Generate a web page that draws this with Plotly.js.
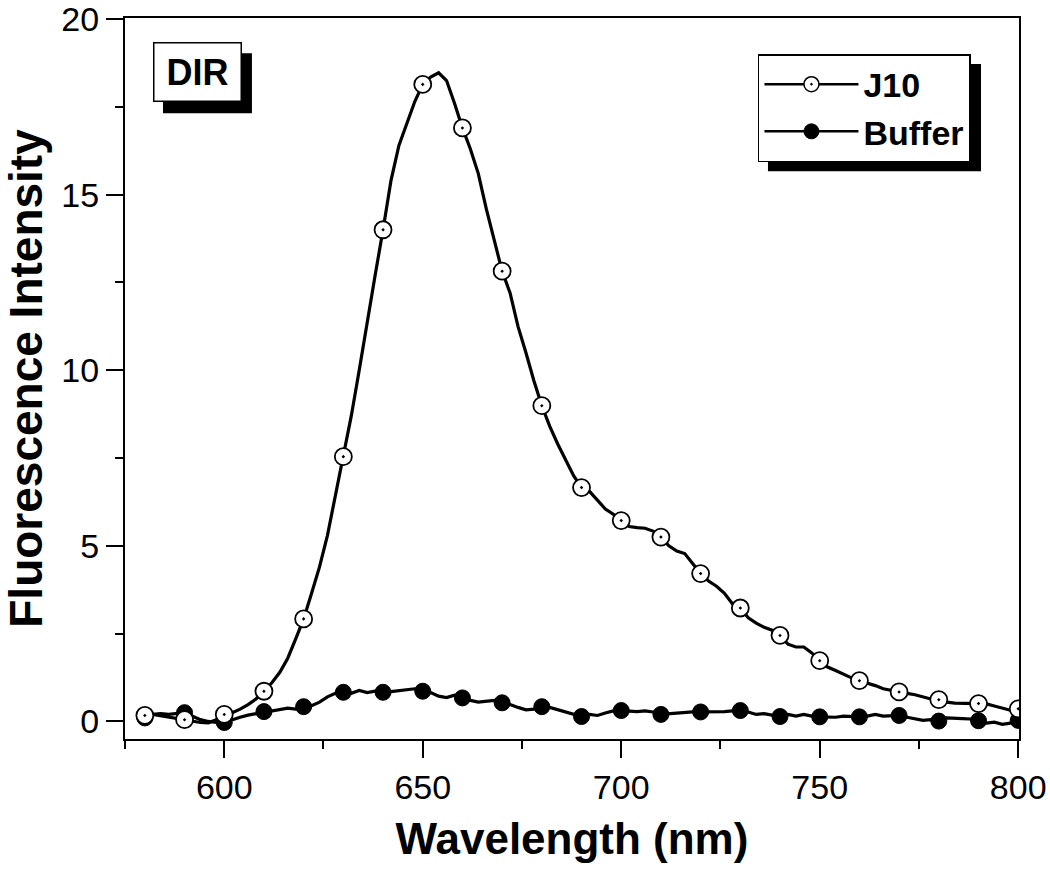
<!DOCTYPE html>
<html><head><meta charset="utf-8">
<script src="https://cdn.plot.ly/plotly-3.0.1.min.js"></script>
<style>html,body{margin:0;padding:0;background:#fff}#chart{width:1050px;height:872px}</style>
</head><body><div id="chart"></div>
<script>
const wavelength = [
 578,580,582,584,586,588,590,592,594,596,598,600,602,604,606,608,610,612,614,616,618,620,
 622,624,626,628,630,632,634,636,638,640,642,644,646,648,650,652,654,656,658,660,662,664,
 666,668,670,672,674,676,678,680,682,684,686,688,690,692,694,696,698,700,702,704,706,708,
 710,712,714,716,718,720,722,724,726,728,730,732,734,736,738,740,742,744,746,748,750,752,
 754,756,758,760,762,764,766,768,770,772,774,776,778,780,782,784,786,788,790,792,794,796,
 798,800];
const j10Line = [
 0.17,0.17,0.2,0.16,0.12,0.08,0.05,0.02,-0.03,-0.04,0.05,0.2,0.25,0.35,0.48,0.64,0.86,1.1,1.4,1.8,2.35,2.92,
 3.65,4.4,5.3,6.45,7.54,8.7,10.0,11.4,12.7,14.0,15.4,16.4,17.05,17.65,18.14,18.35,18.47,18.25,17.6,16.9,16.3,15.6,
 14.6,13.7,12.82,12.2,11.25,10.5,9.7,8.99,8.4,7.9,7.45,7.0,6.66,6.55,6.3,6.05,5.9,5.72,5.55,5.52,5.5,5.42,
 5.25,5.0,4.85,4.78,4.5,4.21,4.0,3.85,3.65,3.35,3.23,2.95,2.8,2.68,2.6,2.45,2.2,2.12,2.12,1.95,1.73,1.55,
 1.45,1.34,1.24,1.16,1.1,1.02,0.93,0.88,0.84,0.8,0.76,0.7,0.64,0.62,0.55,0.52,0.52,0.5,0.51,0.5,0.44,0.38,
 0.32,0.33];
const bufferLine = [
 0.1,0.1,0.2,0.22,0.2,0.22,0.25,0.15,0.05,0.0,-0.03,-0.03,0.05,0.12,0.18,0.22,0.28,0.3,0.34,0.38,0.35,0.42,
 0.45,0.55,0.7,0.8,0.83,0.8,0.88,0.82,0.86,0.83,0.85,0.88,0.9,0.93,0.86,0.82,0.72,0.68,0.75,0.67,0.6,0.55,
 0.58,0.6,0.53,0.48,0.4,0.33,0.35,0.42,0.4,0.33,0.28,0.2,0.14,0.2,0.17,0.24,0.3,0.31,0.3,0.28,0.3,0.27,
 0.2,0.22,0.23,0.25,0.27,0.27,0.27,0.27,0.28,0.3,0.31,0.27,0.2,0.22,0.17,0.14,0.2,0.15,0.2,0.15,0.13,0.12,
 0.12,0.15,0.14,0.13,0.15,0.2,0.15,0.17,0.17,0.12,0.08,0.03,0.05,0.01,0.1,0.1,0.08,0.07,0.02,-0.05,-0.02,-0.08,
 -0.05,0.03];
const markerWavelength = [580,590,600,610,620,630,640,650,660,670,680,690,700,710,720,730,740,750,760,770,780,790,800];
const j10Markers = [0.17,0.05,0.2,0.86,2.92,7.54,14.0,18.14,16.9,12.82,8.99,6.66,5.72,5.25,4.21,3.23,2.45,1.73,1.16,0.84,0.62,0.51,0.36];
const bufferMarkers = [0.1,0.25,-0.03,0.28,0.42,0.83,0.83,0.86,0.67,0.53,0.42,0.14,0.31,0.2,0.27,0.31,0.14,0.13,0.13,0.17,0.01,0.02,0.03];
const seriesNames = ['J10', 'Buffer'];
const panelLabel = 'DIR';
const xTitle = 'Wavelength (nm)';
const yTitle = 'Fluorescence Intensity';

const FONT = 'Liberation Sans, Arial, Helvetica, sans-serif';
const LW = 3.2;
const MS = 17;

const traces = [
  {x: wavelength, y: bufferLine, mode: 'lines', line: {color: 'black', width: LW}, showlegend: false, hoverinfo: 'skip'},
  {x: wavelength, y: j10Line, mode: 'lines', line: {color: 'black', width: LW}, showlegend: false, hoverinfo: 'skip'},
  {x: markerWavelength, y: bufferMarkers, mode: 'markers', showlegend: false,
   marker: {symbol: 'circle', size: 16, color: 'black', line: {color: 'black', width: 1}}},
  {x: markerWavelength, y: j10Markers, mode: 'markers', showlegend: false,
   marker: {symbol: 'circle-dot', size: MS, color: 'white', line: {color: 'black', width: 1.8}}},
  {x: [null], y: [null], name: seriesNames[0], mode: 'lines+markers', line: {color: 'black', width: 2.5},
   marker: {symbol: 'circle-dot', size: 15, color: 'white', line: {color: 'black', width: 1.5}}},
  {x: [null], y: [null], name: seriesNames[1], mode: 'lines+markers', line: {color: 'black', width: 2.5},
   marker: {symbol: 'circle', size: 15, color: 'black', line: {color: 'black', width: 1}}}
];

const axisCommon = {
  showline: true, linewidth: 2, linecolor: 'black', mirror: true,
  showgrid: false, zeroline: false,
  ticks: 'outside', ticklen: 17, tickwidth: 2, tickcolor: 'black',
  ticklabeloverflow: 'allow',
  tickfont: {size: 34, family: FONT, color: 'black'}
};

const layout = {
  width: 1050, height: 872,
  margin: {l: 125, r: 31, t: 18, b: 133},
  paper_bgcolor: 'white', plot_bgcolor: 'white',
  font: {family: FONT, color: 'black'},
  showlegend: true,
  xaxis: Object.assign({}, axisCommon, {
    range: [575, 800.2], tick0: 600, dtick: 50,
    minor: {dtick: 25, ticks: 'outside', ticklen: 8, tickwidth: 2, tickcolor: 'black', showgrid: false},
    title: {text: xTitle, font: {size: 44, family: FONT, weight: 'bold', color: 'black'}, standoff: 18}
  }),
  yaxis: Object.assign({}, axisCommon, {
    range: [-0.5, 20.03], tick0: 0, dtick: 5,
    minor: {dtick: 2.5, ticks: 'outside', ticklen: 8, tickwidth: 2, tickcolor: 'black', showgrid: false},
    title: {text: yTitle, font: {size: 46, family: FONT, weight: 'bold', color: 'black'}, standoff: 14}
  }),
  legend: {
    x: 0.708, y: 0.95, xanchor: 'left', yanchor: 'top',
    bgcolor: 'white', bordercolor: 'black', borderwidth: 1.5,
    font: {size: 34, family: FONT, weight: 'bold', color: 'black'},
    itemwidth: 94, tracegroupgap: 0
  },
  annotations: [{
    text: panelLabel, xref: 'paper', yref: 'paper', x: 0.081, y: 0.925,
    xanchor: 'center', yanchor: 'middle', showarrow: false,
    width: 70, height: 41,
    font: {size: 36, family: FONT, weight: 'bold', color: 'black'},
    bgcolor: 'white', bordercolor: 'black', borderwidth: 1.5, borderpad: 8
  }],
  shapes: [
    {type: 'rect', xref: 'paper', yref: 'paper', x0: 0.0425, x1: 0.142, y0: 0.868, y1: 0.951,
     fillcolor: 'black', line: {width: 0}, layer: 'above'},
    {type: 'rect', xref: 'paper', yref: 'paper', x0: 0.7192, x1: 0.9575, y0: 0.7875, y1: 0.9361,
     fillcolor: 'black', line: {width: 0}, layer: 'above'}
  ]
};

Plotly.newPlot('chart', traces, layout, {displayModeBar: false, staticPlot: true});
</script>
</body></html>
